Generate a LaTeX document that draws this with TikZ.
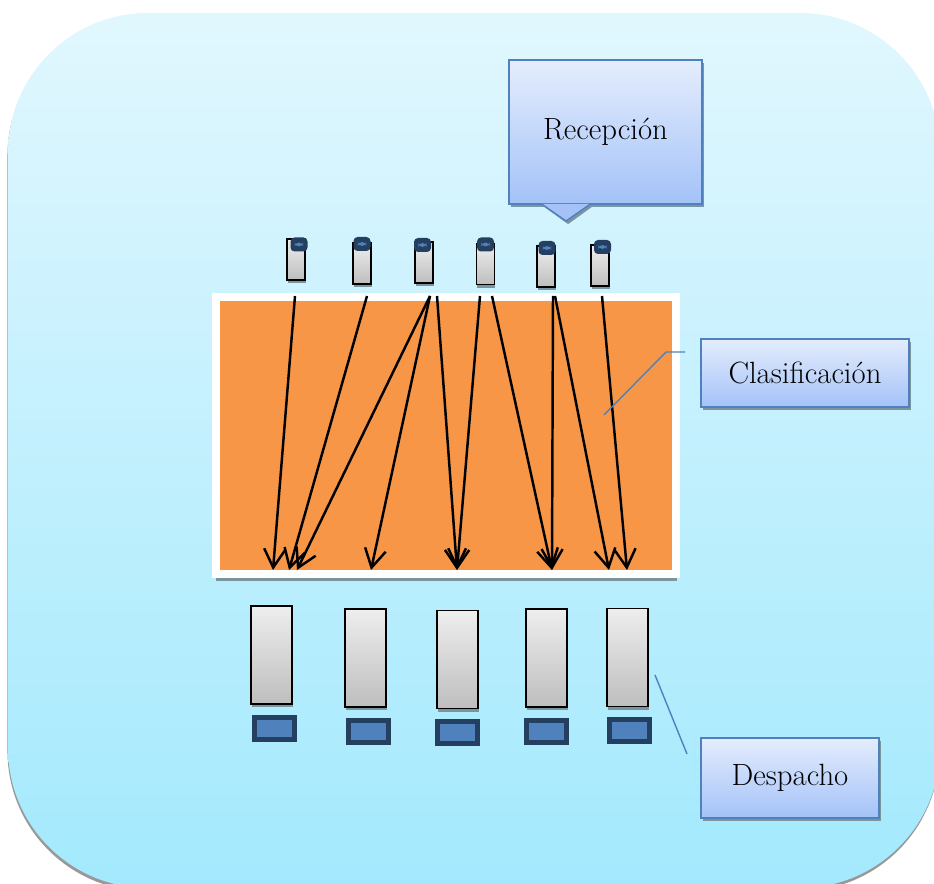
\documentclass[tikz,border=0pt]{standalone}
\usepackage{tikz}
\usetikzlibrary{positioning,shadows,arrows.meta}

\definecolor{bgtop}{RGB}{225,247,254}
\definecolor{bgbot}{RGB}{163,233,253}
\definecolor{calltop}{RGB}{228,237,253}
\definecolor{callbot}{RGB}{164,194,248}
\definecolor{boxline}{RGB}{79,129,189}
\definecolor{shadegray}{RGB}{122,148,160}
\definecolor{sortorange}{RGB}{247,150,70}
\definecolor{bintop}{RGB}{238,238,238}
\definecolor{binbot}{RGB}{190,190,190}
\definecolor{lidnavy}{RGB}{36,63,96}
\definecolor{trayblue}{RGB}{79,129,189}

\begin{document}
\begin{tikzpicture}[x=0.02cm, y=-0.02cm,
			panel/.style={rounded corners=2.8cm, top color=bgtop, bottom color=bgbot,
					drop shadow={shadow xshift=-0.3pt, shadow yshift=-1.8pt, fill=gray!80, opacity=1}},
			stagebox/.style={rectangle, draw=boxline, line width=0.8pt, top color=calltop, bottom color=callbot,
					font=\fontsize{17.5}{21}\selectfont, text=black, inner sep=0pt,
					drop shadow={shadow xshift=1.2pt, shadow yshift=-1.8pt, fill=shadegray, opacity=1}},
			pointer/.style={fill=callbot, drop shadow={shadow xshift=1.2pt, shadow yshift=-1.8pt, fill=shadegray, opacity=1}},
			sortarea/.style={rectangle, fill=sortorange, draw=white, line width=0.16cm, inner sep=0pt,
					minimum width=9.22cm, minimum height=5.54cm,
					drop shadow={shadow xshift=0.3pt, shadow yshift=-4pt, fill=shadegray, opacity=1}},
			crate/.style={rectangle, draw=black, line width=0.9pt, top color=bintop, bottom color=binbot, inner sep=0pt,
					minimum width=0.36cm, minimum height=0.82cm,
					drop shadow={shadow xshift=0.4pt, shadow yshift=-1.8pt, fill=shadegray, opacity=1}},
			lid/.style={rectangle, rounded corners=0.08cm, fill=lidnavy, inner sep=0pt,
					minimum width=0.34cm, minimum height=0.28cm,
					path picture={\fill[trayblue] ([xshift=-2.3pt,yshift=-1.1pt]path picture bounding box.center)
							rectangle ([xshift=2.3pt,yshift=1.1pt]path picture bounding box.center);}},
			bin/.style={crate, minimum width=0.82cm, minimum height=1.96cm},
			tray/.style={rectangle, fill=trayblue, draw=lidnavy, line width=0.1cm, inner sep=0pt,
					minimum width=0.8cm, minimum height=0.44cm},
			flow/.style={draw=black, line width=1.4pt, -{Straight Barb[length=10.5pt,width=12pt]}},
			leader/.style={draw=boxline, line width=0.8pt}]

		\useasboundingbox (0,0) rectangle (934,884);
		\clip (0,0) rectangle (934,884);

		% background
		\path[panel] (8,13) rectangle (940,888);

		% stages
		\node (reception) [stagebox, minimum width=3.86cm, minimum height=2.88cm] at (605.5,132) {Recepción};
		\coordinate (receptiontip) at (566,221);
		\path[pointer] ([xshift=-0.47cm,yshift=0.4pt]reception.south -| receptiontip) -- (receptiontip)
			-- ([xshift=0.47cm,yshift=0.4pt]reception.south -| receptiontip) -- cycle;
		\draw[leader] ([xshift=-0.47cm]reception.south -| receptiontip) -- (receptiontip)
			-- ([xshift=0.47cm]reception.south -| receptiontip);
		\node (sorting) [stagebox, minimum width=4.16cm, minimum height=1.36cm] at (805,373) {Clasificación};
		\node (dispatch) [stagebox, minimum width=3.56cm, minimum height=1.6cm] at (790,778) {Despacho};

		\node (area) [sortarea] at (446,435.5) {};

		% incoming crates
		\node (crate1) [crate] at (296,259.5) {};
		\node (crate2) [crate] at (362,263.5) {};
		\node (crate3) [crate] at (424,262.5) {};
		\node (crate4) [crate] at (485.5,264) {};
		\node (crate5) [crate] at (546,266.5) {};
		\node (crate6) [crate] at (600,265.5) {};
		\node (lid1) [lid] at (299,244.5) {};
		\node (lid2) [lid] at (362,244) {};
		\node (lid3) [lid] at (422.5,245) {};
		\node (lid4) [lid] at (485.5,244.5) {};
		\node (lid5) [lid] at (547,248) {};
		\node (lid6) [lid] at (602.5,247) {};

		% outgoing bins
		\node (bin1) [bin] at (271.5,655) {};
		\node (bin2) [bin] at (365.5,658) {};
		\node (bin3) [bin] at (457.5,659.5) {};
		\node (bin4) [bin] at (546.5,658) {};
		\node (bin5) [bin] at (627.5,657.5) {};
		\node (tray1) [tray, below=0.2cm of bin1, xshift=0.06cm] {};
		\node (tray2) [tray, below=0.2cm of bin2, xshift=0.06cm] {};
		\node (tray3) [tray, below=0.2cm of bin3] {};
		\node (tray4) [tray, below=0.2cm of bin4] {};
		\node (tray5) [tray, below=0.2cm of bin5, xshift=0.04cm] {};

		% sorting paths
		\coordinate (pick1) at (295,296);
		\coordinate (pick2) at (367,296);
		\coordinate (pick3) at (430,296);
		\coordinate (pick4) at (437,296);
		\coordinate (pick5) at (480,296);
		\coordinate (pick6) at (492,296);
		\coordinate (pick7) at (553,296);
		\coordinate (pick8) at (555,296);
		\coordinate (pick9) at (602,296);
		\coordinate (put1) at (273,570);
		\coordinate (put2) at (289,570);
		\coordinate (put3) at (297,570);
		\coordinate (put4) at (371,570);
		\coordinate (put5) at (457,570);
		\coordinate (put6) at (552,570);
		\coordinate (put7) at (609,570);
		\coordinate (put8) at (627,570);

		\draw[flow] (pick1) -- (put1);
		\draw[flow] (pick2) -- (put2);
		\draw[flow] (pick3) -- (put3);
		\draw[flow] (pick3) -- (put4);
		\draw[flow] (pick4) -- (put5);
		\draw[flow] (pick5) -- (put5);
		\draw[flow] (pick6) -- (put6);
		\draw[flow] (pick7) -- (put6);
		\draw[flow] (pick8) -- (put7);
		\draw[flow] (pick9) -- (put8);

		% leader lines
		\coordinate (sortingend) at (685,352);
		\coordinate (sortingtip) at (604,415);
		\coordinate (dispatchend) at (687,754);
		\coordinate (dispatchtip) at (655,675);
		\draw[leader] (sortingend) -- (666,352) -- (sortingtip);
		\draw[leader] (dispatchend) -- (dispatchtip);
	\end{tikzpicture}
\end{document}
